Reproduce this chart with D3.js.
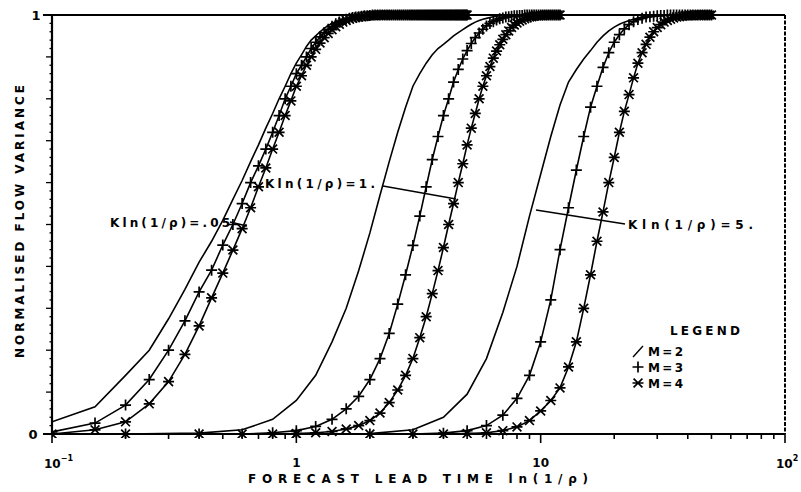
<!DOCTYPE html>
<html><head><meta charset="utf-8">
<script src="https://cdn.jsdelivr.net/npm/d3@7"></script>
<style>
html,body{margin:0;padding:0;background:#fff;}
svg{display:block;}
text{font-family:"DejaVu Sans",Arial,sans-serif;fill:#000;font-weight:bold;}
</style></head>
<body><svg id="c" width="801" height="492"></svg>
<script>
// ---------------- data ----------------
// group Kln(1/rho)=.05 : lead times (step 0.05)
const tG1 = [0.10,0.15,0.20,0.25,0.30,0.35,0.40,0.45,0.50,0.55,0.60,0.65,0.70,0.75,0.80,0.85,0.90,0.95,1.00,1.05,1.10,1.15,1.20,1.25,1.30,1.35,1.40,1.45,1.50,1.55,1.60,1.65,1.70,1.75,1.80,1.85,1.90,1.95,2.00,2.05,2.10,2.15,2.20,2.25,2.30,2.35,2.40,2.45,2.50,2.55,2.60,2.65,2.70,2.75,2.80,2.85,2.90,2.95,3.00,
  3.05,3.10,3.15,3.20,3.25,3.30,3.35,3.40,3.45,3.50,3.55,3.60,3.65,3.70,3.75,3.80,3.85,3.90,3.95,4.00,4.05,4.10,4.15,4.20,4.25,4.30,4.35,4.40,4.45,4.50,4.55,4.60,4.65,4.70,4.75,4.80,4.85,4.90,4.95,5.00];
const g1M2 = [0.029,0.065,0.14,0.20,0.275,0.345,0.41,0.46,0.51,0.56,0.605,0.65,0.69,0.73,0.765,0.80,0.83,0.86,0.885,0.905,0.925,0.94,0.95,0.96,0.968,0.975,0.98,0.984,0.987,0.99,0.992,0.994,0.995,0.996,0.997,0.998,0.998,0.999,0.999,1,1,1,1,1,1,1,1,1,1,1,1,1,1,1,1,1,1,1,1,
  1,1,1,1,1,1,1,1,1,1,1,1,1,1,1,1,1,1,1,1,1,1,1,1,1,1,1,1,1,1,1,1,1,1,1,1,1,1,1,1];
const g1M3 = [0.005,0.026,0.069,0.13,0.20,0.27,0.339,0.391,0.451,0.50,0.55,0.60,0.64,0.68,0.72,0.76,0.80,0.83,0.86,0.88,0.90,0.92,0.935,0.948,0.958,0.966,0.973,0.979,0.983,0.987,0.99,0.992,0.994,0.995,0.996,0.997,0.998,0.998,0.999,1,1,1,1,1,1,1,1,1,1,1,1,1,1,1,1,1,1,1,1,
  1,1,1,1,1,1,1,1,1,1,1,1,1,1,1,1,1,1,1,1,1,1,1,1,1,1,1,1,1,1,1,1,1,1,1,1,1,1,1,1];
const g1M4 = [0.0,0.01,0.029,0.072,0.125,0.19,0.258,0.325,0.384,0.439,0.49,0.54,0.59,0.635,0.68,0.72,0.76,0.795,0.83,0.855,0.88,0.90,0.918,0.933,0.946,0.956,0.965,0.972,0.978,0.983,0.987,0.99,0.992,0.994,0.995,0.996,0.997,0.998,0.998,0.999,0.999,1,1,1,1,1,1,1,1,1,1,1,1,1,1,1,1,1,1,
  1,1,1,1,1,1,1,1,1,1,1,1,1,1,1,1,1,1,1,1,1,1,1,1,1,1,1,1,1,1,1,1,1,1,1,1,1,1,1,1];

// group Kln(1/rho)=1. : lead times (step 0.2)
const tG2 = [0.2,0.4,0.6,0.8,1.0,1.2,1.4,1.6,1.8,2.0,2.2,2.4,2.6,2.8,3.0,3.2,3.4,3.6,3.8,4.0,4.2,4.4,4.6,4.8,5.0,5.2,5.4,5.6,5.8,6.0,6.2,6.4,6.6,6.8,7.0,7.2,7.4,7.6,7.8,8.0,8.2,8.4,8.6,8.8,9.0,9.2,9.4,9.6,9.8,10.0,10.2,10.4,10.6,10.8,11.0,11.2,11.4,11.6,11.8,12.0];
const g2M2 = [0,0.002,0.01,0.035,0.08,0.14,0.22,0.30,0.39,0.48,0.57,0.65,0.72,0.78,0.83,0.86,0.885,0.905,0.92,0.93,0.94,0.95,0.958,0.965,0.972,0.978,0.983,0.987,0.99,0.992,0.994,0.996,0.997,0.998,0.999,0.999,1,1,1,1,1,1,1,1,1,1,1,1,1,1,1,1,1,1,1,1,1,1,1,1];
const g2M3 = [0,0,0,0.003,0.008,0.018,0.035,0.06,0.09,0.13,0.18,0.24,0.31,0.38,0.45,0.52,0.59,0.655,0.71,0.76,0.80,0.84,0.87,0.895,0.915,0.932,0.946,0.957,0.966,0.974,0.98,0.984,0.988,0.991,0.993,0.995,0.996,0.997,0.998,0.998,0.999,0.999,1,1,1,1,1,1,1,1,1,1,1,1,1,1,1,1,1,1];
const g2M4 = [0,0,0,0,0.001,0.003,0.006,0.012,0.02,0.032,0.05,0.075,0.105,0.14,0.18,0.23,0.28,0.335,0.39,0.445,0.50,0.55,0.60,0.645,0.69,0.73,0.765,0.80,0.83,0.855,0.877,0.897,0.914,0.929,0.942,0.953,0.962,0.97,0.976,0.981,0.985,0.988,0.991,0.993,0.995,0.996,0.997,0.998,0.998,0.999,0.999,1,1,1,1,1,1,1,1,1];

// group Kln(1/rho)=5. : lead times (step 1)
const tG3 = [1,2,3,4,5,6,7,8,9,10,11,12,13,14,15,16,17,18,19,20,21,22,23,24,25,26,27,28,29,30,31,32,33,34,35,36,37,38,39,40,41,42,43,44,45,46,47,48,49,50];
const g3M2 = [0,0.001,0.01,0.04,0.095,0.18,0.29,0.40,0.52,0.62,0.71,0.785,0.84,0.87,0.895,0.915,0.935,0.95,0.962,0.971,0.978,0.983,0.987,0.99,0.993,0.995,0.997,0.998,0.999,0.999,1,1,1,1,1,1,1,1,1,1,1,1,1,1,1,1,1,1,1,1];
const g3M3 = [0,0,0,0.002,0.008,0.02,0.045,0.085,0.14,0.22,0.32,0.44,0.54,0.63,0.71,0.78,0.83,0.875,0.91,0.935,0.953,0.967,0.977,0.984,0.989,0.992,0.995,0.996,0.997,0.998,0.999,0.999,1,1,1,1,1,1,1,1,1,1,1,1,1,1,1,1,1,1];
const g3M4 = [0,0,0,0,0.001,0.003,0.008,0.017,0.032,0.055,0.08,0.11,0.16,0.22,0.30,0.38,0.46,0.53,0.60,0.66,0.72,0.77,0.81,0.85,0.885,0.91,0.93,0.947,0.96,0.97,0.977,0.983,0.987,0.99,0.993,0.995,0.996,0.997,0.998,0.998,0.999,0.999,1,1,1,1,1,1,1,1];

const xTickLabels = ["1","10"];
const yTickLabels = ["0","1"];
const groupLabels = ["Kln(1/\u03C1)=.05","Kln(1/\u03C1)=1.","Kln(1/\u03C1)=5."];
const legendLabels = ["M=2","M=3","M=4"];

// ---------------- drawing ----------------
const svg = d3.select("#c");
const L=52,R=785,T=15,B=434;
const x = d3.scaleLog().domain([0.1,100]).range([L,R]);
const y = d3.scaleLinear().domain([0,1]).range([B,T]);

const ink="#000";
const g = svg.append("g");

svg.append("defs").append("clipPath").attr("id","pc").append("rect")
  .attr("x",L).attr("y",T-8).attr("width",R-L).attr("height",B-T+12);

// y axis ticks (minor every .02, major every .1)
const yMinor = d3.range(0,51).map(i=>i/50);
g.selectAll(".ym").data(yMinor).enter().append("line")
  .attr("x1",L).attr("x2",(d,i)=> i%5===0 ? L-6 : L-2.5)
  .attr("y1",d=>y(d)).attr("y2",d=>y(d))
  .attr("stroke",ink).attr("stroke-width",1.3);

// x axis ticks
const xt = [];
[0.1,1,10].forEach(dec=>{for(let k=1;k<10;k++) xt.push({v:dec*k,major:k===1});});
xt.push({v:100,major:true});
g.selectAll(".xm").data(xt).enter().append("line")
  .attr("x1",d=>x(d.v)).attr("x2",d=>x(d.v))
  .attr("y1",B).attr("y2",d=>d.major? B+9 : B+5)
  .attr("stroke",ink).attr("stroke-width",1.6);

// frame
g.append("line").attr("x1",L).attr("x2",L).attr("y1",T).attr("y2",B).attr("stroke",ink).attr("stroke-width",2.2);
g.append("line").attr("x1",L-9).attr("x2",R).attr("y1",B).attr("y2",B).attr("stroke",ink).attr("stroke-width",2.2);
g.append("line").attr("x1",L-9).attr("x2",R).attr("y1",T).attr("y2",T).attr("stroke",ink).attr("stroke-width",1.8);
g.append("line").attr("x1",R).attr("x2",R).attr("y1",T).attr("y2",B).attr("stroke",ink).attr("stroke-width",2).attr("stroke-dasharray","4,1.5");

// tick labels
const fs = 12;
svg.append("text").attr("x",36).attr("y",T+5).attr("text-anchor","middle").attr("font-size",13).text(yTickLabels[1]);
svg.append("text").attr("x",33).attr("y",B+5).attr("text-anchor","middle").attr("font-size",13).attr("font-weight","normal").text(yTickLabels[0]);
svg.append("text").attr("x",x(1)).attr("y",467).attr("text-anchor","middle").attr("font-size",fs).text(xTickLabels[0]);
svg.append("text").attr("x",x(10)).attr("y",467).attr("text-anchor","middle").attr("font-size",fs).text(xTickLabels[1]);
// 10^-1
const t1 = svg.append("text").attr("x",44).attr("y",468).attr("font-size",fs);
t1.append("tspan").text("10");
t1.append("tspan").attr("dy",-7).attr("font-size",8).text("\u22121");
// 10^2
const t2 = svg.append("text").attr("x",776).attr("y",468).attr("font-size",fs);
t2.append("tspan").text("10");
t2.append("tspan").attr("dy",-7).attr("font-size",8).text("2");

// axis titles
svg.append("text").attr("x",248).attr("y",483).attr("font-size",12)
  .attr("textLength",340).attr("lengthAdjust","spacing").text("FORECAST LEAD TIME  ln(1/\u03C1)");
svg.append("text").attr("transform","translate(24,358) rotate(-90)").attr("font-size",12)
  .attr("textLength",273).attr("lengthAdjust","spacing").text("NORMALISED FLOW VARIANCE");

// series
const groups = [
  {t:tG1, s:[g1M2,g1M3,g1M4]},
  {t:tG2, s:[g2M2,g2M3,g2M4]},
  {t:tG3, s:[g3M2,g3M3,g3M4]}
];
const line = d3.line().x(d=>x(d[0])).y(d=>y(d[1]));
const plot = svg.append("g").attr("clip-path","url(#pc)");
function plus(sel,cx,cy,r){
  sel.append("path").attr("d",`M${cx-r},${cy}H${cx+r}M${cx},${cy-r}V${cy+r}`)
    .attr("stroke",ink).attr("stroke-width",1.7).attr("fill","none");
}
function star(sel,cx,cy,r){
  const a=r*0.8;
  sel.append("path").attr("d",`M${cx-a},${cy-a}L${cx+a},${cy+a}M${cx-a},${cy+a}L${cx+a},${cy-a}M${cx-r},${cy}H${cx+r}`)
    .attr("stroke",ink).attr("stroke-width",1.7).attr("fill","none");
}
groups.forEach(gr=>{
  gr.s.forEach((vals,m)=>{
    const pts = gr.t.map((t,i)=>[t,vals[i]]);
    plot.append("path").datum(pts).attr("d",line).attr("fill","none").attr("stroke",ink).attr("stroke-width",1.6);
    if(m>0){
      pts.forEach(p=>{ if(m===1) plus(plot,x(p[0]),y(p[1]),5.5); else star(plot,x(p[0]),y(p[1]),5.5); });
    }
  });
});

// group annotations
function lab(txt,x0,yb,w){
  svg.append("text").attr("x",x0).attr("y",yb).attr("font-size",12)
    .attr("textLength",w).attr("lengthAdjust","spacing").text(txt);
}
lab(groupLabels[0],110,227,120);
svg.append("line").attr("x1",230).attr("y1",222).attr("x2",247).attr("y2",226).attr("stroke",ink).attr("stroke-width",1.5);
lab(groupLabels[1],265,188,110);
svg.append("line").attr("x1",383).attr("y1",186).attr("x2",456).attr("y2",199).attr("stroke",ink).attr("stroke-width",1.5);
lab(groupLabels[2],628,229,125);
svg.append("line").attr("x1",536).attr("y1",210).attr("x2",625).attr("y2",224).attr("stroke",ink).attr("stroke-width",1.5);

// legend
svg.append("text").attr("x",670).attr("y",335).attr("font-size",12).attr("textLength",70).attr("lengthAdjust","spacing").text("LEGEND");
const ly=[351,367,383];
legendLabels.forEach((t,i)=>{
  svg.append("text").attr("x",648).attr("y",ly[i]+5).attr("font-size",12).attr("textLength",35).attr("lengthAdjust","spacing").text(t);
});
svg.append("line").attr("x1",633).attr("y1",357).attr("x2",643).attr("y2",346).attr("stroke",ink).attr("stroke-width",1.4);
plus(svg,638,ly[1],5.5);
star(svg,638,ly[2],5.5);
</script></body></html>
